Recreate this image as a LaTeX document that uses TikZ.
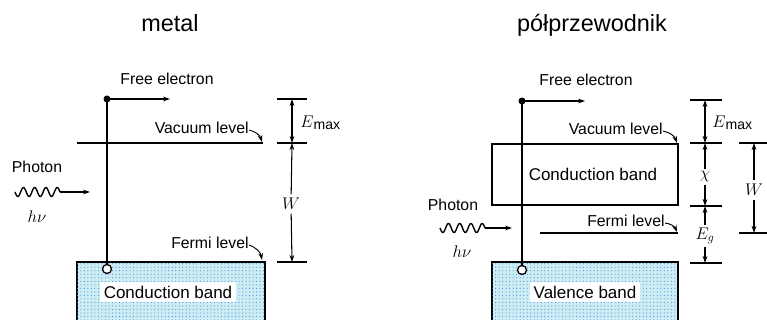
\documentclass[tikz,border=0pt]{standalone}
\usepackage{fontspec}
\setmainfont{Liberation Sans}
\usepackage{amsmath}
\usetikzlibrary{calc, positioning}
\usetikzlibrary{arrows.meta}
\usetikzlibrary{patterns}
\definecolor{bandfill}{RGB}{205,236,244}
\definecolor{banddots}{RGB}{70,150,220}
\tikzset{
  level/.style={black,line width=1.1pt},
  dimtick/.style={black,line width=0.9pt},
  dimarrow/.style={black,line width=0.9pt,-{Stealth[length=6pt,width=4pt]}},
  dimboth/.style={black,line width=0.9pt,{Stealth[length=6pt,width=4pt]}-{Stealth[length=6pt,width=4pt]}},
  lbl/.style={font=\fontsize{13.5}{16}\selectfont,inner sep=1pt},
  bandlbl/.style={font=\fontsize{14.5}{17}\selectfont,fill=white,inner sep=3pt},
  titlelbl/.style={font=\fontsize{20}{24}\selectfont,anchor=base},
  mathlbl/.style={font=\fontsize{14}{16}\selectfont,inner sep=1pt},
  bandbox/.style={draw=black,line width=1.1pt,fill=bandfill,postaction={pattern=dots,pattern color=banddots}}
}
\begin{document}
\begin{tikzpicture}[x=0.03cm,y=-0.03cm]
\useasboundingbox (0,0) rectangle (767,320);
\clip (0,0) rectangle (767,320);
\def\amp{4.5}
% metal
\coordinate (ElecL) at (107,99);
\coordinate (HoleL) at (107,269);
\coordinate (VacStartL) at (77,143);
\coordinate (VacEndL) at (263,143);
\coordinate (FermiEndL) at (263,261);
\coordinate (ElecArrowL) at (170,99);
\coordinate (WaveEndL) at (60,192);
\coordinate (PhotonTipL) at (90,192);
\coordinate (DimTopL) at (292,99);
\coordinate (DimVacL) at (292,143);
\coordinate (DimFermiL) at (292,262);

\node[titlelbl] (TitleMetal) at (170,32) {metal};
\node[lbl] (FreeL) at (167,79) {Free electron};
\node[lbl,anchor=east] (VacLblL) at (250,128) {Vacuum level};
\node[lbl,anchor=east] (FermiLblL) at (250,243) {Fermi level};
\node[lbl] (PhotonL) at (37,167) {Photon};
\node[mathlbl] (HnuL) at (37,217) {$h\nu$};

\draw[bandbox] (77,262) rectangle (265,330);
\node[bandlbl] (CondBandL) at (168,292) {Conduction band};
\draw[level] (VacStartL) -- (VacEndL);
\draw[level] (ElecL) -- (HoleL);
\fill[black] (ElecL) circle[radius=3.5];
\draw[level,fill=white] (HoleL) circle[radius=4.5];
\draw[dimarrow,line width=1.1pt] (ElecL) -- (ElecArrowL);
\draw[dimarrow,line width=0.8pt] ($(VacLblL.east)+(-1,2)$) to[bend left=30] ($(VacEndL)+(-1,-1)$);
\draw[dimarrow,line width=0.8pt] ($(FermiLblL.east)+(-1,2)$) to[bend left=30] ($(FermiEndL)+(-1,-1)$);

\draw[black,line width=1.2pt] plot[domain=0:45,samples=90,variable=\t] ({15+\t},{192+\amp*sin(\t*32)}) -- (WaveEndL);
\draw[dimarrow,line width=1pt] (WaveEndL) -- (PhotonTipL);

\foreach \y in {99,143,262} \draw[dimtick] (277,\y) -- (307,\y);
\draw[dimboth] (DimTopL) -- (DimVacL);
\node[mathlbl,anchor=west] (EmaxL) at (299,123) {$E$\raisebox{-2pt}{\fontsize{12}{14}\selectfont max}};
\node[mathlbl,fill=white,inner sep=3pt] (WL) at (291,204) {$W$};
\draw[dimarrow] (WL) -- (DimVacL);
\draw[dimarrow] (WL) -- (DimFermiL);

% semiconductor
\coordinate (ElecR) at (522,101);
\coordinate (HoleR) at (522,270);
\coordinate (CondTopR) at (492,144);
\coordinate (VacEndR) at (678,144);
\coordinate (FermiStartR) at (540,233);
\coordinate (FermiEndR) at (678,233);
\coordinate (ElecArrowR) at (585,101);
\coordinate (WaveEndR) at (485,228);
\coordinate (PhotonTipR) at (512,228);
\coordinate (DimTopR) at (705,100);
\coordinate (DimVacR) at (705,143);
\coordinate (DimCondR) at (705,206);
\coordinate (DimValR) at (705,263);
\coordinate (WTopR) at (754,143);
\coordinate (WBotR) at (754,233);

\node[titlelbl] (TitleSemi) at (592,32) {półprzewodnik};
\node[lbl] (FreeR) at (586,80) {Free electron};
\node[lbl,anchor=east] (VacLblR) at (664,129) {Vacuum level};
\node[lbl,anchor=east] (FermiLblR) at (666,221) {Fermi level};
\node[lbl] (PhotonR) at (453,205) {Photon};
\node[mathlbl] (HnuR) at (462,252) {$h\nu$};

\draw[level,fill=white] (CondTopR) rectangle (678,205);
\node[lbl,font=\fontsize{14.5}{17}\selectfont] (CondBandR) at (593,174) {Conduction band};
\draw[bandbox] (492,262) rectangle (678,330);
\node[bandlbl] (ValBandR) at (585,292) {Valence band};
\draw[level] (FermiStartR) -- (FermiEndR);
\draw[level] (ElecR) -- (HoleR);
\fill[black] (ElecR) circle[radius=3.5];
\draw[level,fill=white] (HoleR) circle[radius=4.5];
\draw[dimarrow,line width=1.1pt] (ElecR) -- (ElecArrowR);
\draw[dimarrow,line width=0.8pt] ($(VacLblR.east)+(-1,2)$) to[bend left=30] ($(VacEndR)+(-1,-1)$);
\draw[dimarrow,line width=0.8pt] ($(FermiLblR.east)+(-1,2)$) to[bend left=30] ($(FermiEndR)+(-1,-1)$);

\draw[black,line width=1.2pt] plot[domain=0:45,samples=90,variable=\t] ({440+\t},{228+\amp*sin(\t*32)}) -- (WaveEndR);
\draw[dimarrow,line width=1pt] (WaveEndR) -- (PhotonTipR);

\foreach \y in {100,143,206,263} \draw[dimtick] (690,\y) -- (722,\y);
\draw[dimboth] (DimTopR) -- (DimVacR);
\node[mathlbl,anchor=west] (EmaxR) at (711,123) {$E$\raisebox{-2pt}{\fontsize{12}{14}\selectfont max}};
\node[mathlbl,fill=white,inner sep=2pt] (ChiR) at (705,177) {$\chi$};
\draw[dimarrow] (ChiR) -- (DimVacR);
\draw[dimarrow] (ChiR) -- (DimCondR);
\node[mathlbl,fill=white,inner sep=2pt] (EgR) at (705,236) {$E_g$};
\draw[dimarrow] (EgR) -- (DimCondR);
\draw[dimarrow] (EgR) -- (DimValR);

\foreach \y in {143,233} \draw[dimtick] (739,\y) -- (767,\y);
\node[mathlbl,fill=white,inner sep=3pt] (WR) at (754,190) {$W$};
\draw[dimarrow] (WR) -- (WTopR);
\draw[dimarrow] (WR) -- (WBotR);
\end{tikzpicture}
\end{document}
